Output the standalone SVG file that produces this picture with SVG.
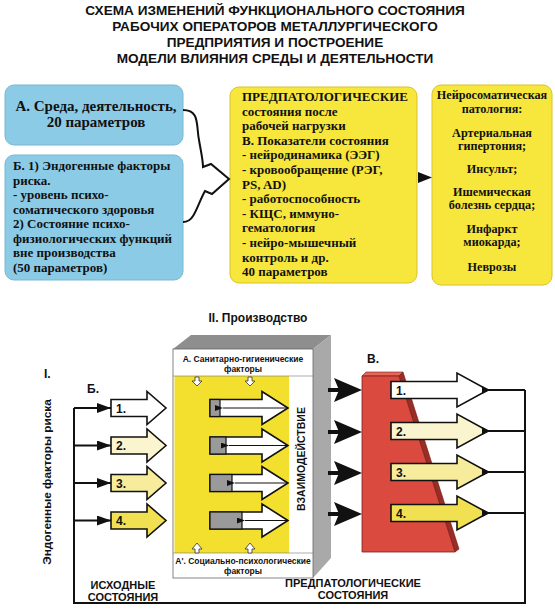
<svg xmlns="http://www.w3.org/2000/svg" width="555" height="615" viewBox="0 0 555 615">
<defs>
<style>
.title{font-family:"Liberation Sans",Arial,sans-serif;font-weight:bold;font-size:13.6px;fill:#111;text-anchor:middle}
.serif{font-family:"Liberation Serif","Times New Roman",serif;font-weight:bold;font-size:13px;fill:#111}
.sans{font-family:"Liberation Sans",Arial,sans-serif;font-weight:bold;fill:#111}
.blue{fill:#8ccbe6;stroke:#79b7d3;stroke-width:1}
.yel{fill:#f7e73c;stroke:#d9c22a;stroke-width:1}
.ol{stroke:#111;stroke-width:1.6;stroke-linejoin:miter}
.ln{fill:none;stroke:#111;stroke-width:2}
.f1{fill:#ffffff}.f2{fill:#faf4cf}.f3{fill:#f6ec9c}.f4{fill:#f0e052}
.small{fill:#fff;stroke:#333;stroke-width:0.8}
</style>
<marker id="ah" viewBox="0 0 14 10" refX="14" refY="5" markerWidth="14" markerHeight="10" markerUnits="userSpaceOnUse" orient="auto">
<path d="M0,0 L14,5 L0,10 Z" fill="#111"/>
</marker>
<marker id="ahs" viewBox="0 0 8 6" refX="0" refY="3" markerWidth="8" markerHeight="6" markerUnits="userSpaceOnUse" orient="auto">
<path d="M8,0 L0,3 L8,6 Z" fill="#111"/>
</marker>
</defs>
<rect width="555" height="615" fill="#fff"/>

<g id="title">
<text class="title" x="275" y="15">СХЕМА ИЗМЕНЕНИЙ ФУНКЦИОНАЛЬНОГО СОСТОЯНИЯ</text>
<text class="title" x="275" y="31">РАБОЧИХ ОПЕРАТОРОВ МЕТАЛЛУРГИЧЕСКОГО</text>
<text class="title" x="275" y="47">ПРЕДПРИЯТИЯ И ПОСТРОЕНИЕ</text>
<text class="title" x="275" y="63">МОДЕЛИ ВЛИЯНИЯ СРЕДЫ И ДЕЯТЕЛЬНОСТИ</text>
</g>

<g id="nodeA">
<rect class="blue" x="5" y="85" width="178" height="60" rx="9"/>
<text class="serif" x="96" y="111" text-anchor="middle" style="font-size:15px">А. Среда, деятельность,</text>
<text class="serif" x="96" y="127" text-anchor="middle" style="font-size:15px">20 параметров</text>
</g>

<g id="nodeB">
<rect class="blue" x="5" y="155" width="178" height="125" rx="9"/>
<text class="serif" x="13" y="170">Б. 1) Эндогенные факторы</text>
<text class="serif" x="13" y="184.5">риска.</text>
<text class="serif" x="13" y="199">- уровень психо-</text>
<text class="serif" x="13" y="213.5">соматического здоровья</text>
<text class="serif" x="13" y="228">2) Состояние психо-</text>
<text class="serif" x="13" y="242.5">физиологических функций</text>
<text class="serif" x="13" y="257">вне производства</text>
<text class="serif" x="13" y="271.5">(50 параметров)</text>
</g>

<g id="nodeV">
<rect class="yel" x="230" y="87" width="187" height="196" rx="9"/>
<text class="serif" x="242" y="101">ПРЕДПАТОЛОГИЧЕСКИЕ</text>
<text class="serif" x="242" y="115.6">состояния после</text>
<text class="serif" x="242" y="130.2">рабочей нагрузки</text>
<text class="serif" x="242" y="144.8">В. Показатели состояния</text>
<text class="serif" x="242" y="159.4">- нейродинамика (ЭЭГ)</text>
<text class="serif" x="242" y="174">- кровообращение (РЭГ,</text>
<text class="serif" x="242" y="188.6">PS, AD)</text>
<text class="serif" x="242" y="203.2">- работоспособность</text>
<text class="serif" x="242" y="217.8">- КЩС, иммуно-</text>
<text class="serif" x="242" y="232.4">гематология</text>
<text class="serif" x="242" y="247">- нейро-мышечный</text>
<text class="serif" x="242" y="261.6">контроль и др.</text>
<text class="serif" x="242" y="276.2">40 параметров</text>
</g>

<g id="nodePath">
<rect class="yel" x="432" y="85" width="120" height="200" rx="9"/>
<g class="serif" text-anchor="middle" style="font-size:12.2px">
<text x="492" y="99">Нейросоматическая</text>
<text x="492" y="112.5">патология:</text>
<text x="492" y="136.5">Артериальная</text>
<text x="492" y="150">гипертония;</text>
<text x="492" y="173">Инсульт;</text>
<text x="492" y="195.5">Ишемическая</text>
<text x="492" y="209">болезнь сердца;</text>
<text x="492" y="232.5">Инфаркт</text>
<text x="492" y="246">миокарда;</text>
<text x="492" y="271">Неврозы</text>
</g>
</g>

<g id="topConnectors">
<path class="ln" d="M183,110 C200,110 196,125 199,140 C201,152 203,160 203,167 L211,164 L229,179 L212,194 L205,191 C200,200 197,210 193,216 C190,221 187,222 183,222"/>
<path d="M418,172 L432,177.5 L418,183 Z" fill="#111"/>
</g>

<g id="labelsBottom">
<text class="sans" x="258" y="322" text-anchor="middle" style="font-size:12px">II. Производство</text>
<text class="sans" x="44" y="378" style="font-size:12px">I.</text>
<text class="sans" x="87" y="393" style="font-size:12px">Б.</text>
<text class="sans" transform="translate(51,482) rotate(-90)" text-anchor="middle" style="font-size:11.8px">Эндогенные факторы риска</text>
<text class="sans" x="123" y="589" text-anchor="middle" style="font-size:11px">ИСХОДНЫЕ</text>
<text class="sans" x="123" y="601" text-anchor="middle" style="font-size:11px">СОСТОЯНИЯ</text>
<text class="sans" x="353" y="587" text-anchor="middle" style="font-size:11px">ПРЕДПАТОЛОГИЧЕСКИЕ</text>
<text class="sans" x="353" y="599" text-anchor="middle" style="font-size:11px">СОСТОЯНИЯ</text>
<text class="sans" x="367" y="363" style="font-size:12px">В.</text>
</g>

<g id="production">
<polygon points="173,349 191,335 331,335 313,349" fill="#8e8e8e"/>
<polygon points="313,349 331,335 331,558 313,578" fill="#a9a9a9"/>
<rect x="173" y="349" width="140" height="229" fill="#fff" stroke="#666" stroke-width="0.8"/>
<rect x="174.5" y="376" width="114.5" height="177" fill="#f2df2e"/>
<line x1="173" y1="376" x2="313" y2="376" stroke="#777" stroke-width="0.6"/>
<line x1="173" y1="553" x2="313" y2="553" stroke="#777" stroke-width="0.6"/>
<text class="sans" x="243" y="362" text-anchor="middle" style="font-size:8.5px">А. Санитарно-гигиенические</text>
<text class="sans" x="243" y="371.5" text-anchor="middle" style="font-size:8.5px">факторы</text>
<text class="sans" x="243" y="564" text-anchor="middle" style="font-size:8.5px">А'. Социально-психологические</text>
<text class="sans" x="243" y="573.5" text-anchor="middle" style="font-size:8.5px">факторы</text>
<text class="sans" transform="translate(305,459) rotate(-90)" text-anchor="middle" style="font-size:10.5px">ВЗАИМОДЕЙСТВИЕ</text>
<path class="small" d="M195,377 h4 v4 h3 l-5,5 l-5,-5 h3 Z"/>
<path class="small" d="M248,377 h4 v4 h3 l-5,5 l-5,-5 h3 Z"/>
<path class="small" d="M195,553 h4 v-4 h3 l-5,-6 l-5,6 h3 Z"/>
<path class="small" d="M248,553 h4 v-4 h3 l-5,-6 l-5,6 h3 Z"/>
</g>

<g id="innerArrows">
<path class="ol f1" d="M210,399.5 H262 V391.5 L288,408 L262,424.5 V416.5 H210 Z"/>
<rect x="210" y="399.5" width="10" height="17" fill="#9a9a9a" stroke="#111" stroke-width="1.2"/>
<line x1="288" y1="408" x2="223" y2="408" stroke="#111" stroke-width="1" marker-end="url(#ahs)"/>
<path class="ol f1" d="M210,437 H262 V429 L288,445.5 L262,462 V454 H210 Z"/>
<rect x="210" y="437" width="16" height="17" fill="#9a9a9a" stroke="#111" stroke-width="1.2"/>
<line x1="288" y1="445.5" x2="229" y2="445.5" stroke="#111" stroke-width="1" marker-end="url(#ahs)"/>
<path class="ol f1" d="M210,474.5 H262 V466.5 L288,483 L262,499.5 V491.5 H210 Z"/>
<rect x="210" y="474.5" width="22" height="17" fill="#9a9a9a" stroke="#111" stroke-width="1.2"/>
<line x1="288" y1="483" x2="235" y2="483" stroke="#111" stroke-width="1" marker-end="url(#ahs)"/>
<path class="ol f1" d="M210,512 H262 V504 L288,520.5 L262,537 V529 H210 Z"/>
<rect x="210" y="512" width="32" height="17" fill="#9a9a9a" stroke="#111" stroke-width="1.2"/>
<line x1="288" y1="520.5" x2="245" y2="520.5" stroke="#111" stroke-width="1" marker-end="url(#ahs)"/>
</g>

<g id="leftArrows">
<path class="ol f1" d="M111,399.5 H147 V391.5 L166,408 L147,424.5 V416.5 H111 Z"/>
<path class="ol f2" d="M111,437 H147 V429 L166,445.5 L147,462 V454 H111 Z"/>
<path class="ol f3" d="M111,474.5 H147 V466.5 L166,483 L147,499.5 V491.5 H111 Z"/>
<path class="ol f4" d="M111,512 H147 V504 L166,520.5 L147,537 V529 H111 Z"/>
<g class="sans" style="font-size:12px">
<text x="116" y="412.5">1.</text>
<text x="116" y="450">2.</text>
<text x="116" y="487.5">3.</text>
<text x="116" y="525">4.</text>
</g>
</g>

<g id="redBlock">
<polygon points="362,376 366,372 403,372 399,376" fill="#e4685a" stroke="#7a1f1a" stroke-width="0.6"/>
<polygon points="399,376 403,372 459,549 455,552" fill="#9b2d27" stroke="#6a1a16" stroke-width="0.6"/>
<polygon points="362,376 399,376 455,552 362,552" fill="#da4a3e" stroke="#7a1f1a" stroke-width="0.8"/>
</g>

<g id="rightArrows">
<path class="ol f1" d="M391,381.5 H457 V373 L488,390 L457,407 V398.5 H391 Z"/>
<path class="ol f2" d="M391,422.5 H457 V414 L488,431 L457,448 V439.5 H391 Z"/>
<path class="ol f3" d="M391,463.5 H457 V455 L488,472 L457,489 V480.5 H391 Z"/>
<path class="ol f4" d="M391,504.5 H457 V496 L488,513 L457,530 V521.5 H391 Z"/>
<g class="sans" style="font-size:12px">
<text x="396" y="394.5">1.</text>
<text x="396" y="435.5">2.</text>
<text x="396" y="476.5">3.</text>
<text x="396" y="517.5">4.</text>
</g>
</g>

<g id="bottomConnectors">
<polyline class="ln" points="74,408 74,603 525,603 525,390"/>
<line class="ln" x1="74" y1="408" x2="111" y2="408" marker-end="url(#ah)"/>
<line class="ln" x1="74" y1="445.5" x2="111" y2="445.5" marker-end="url(#ah)"/>
<line class="ln" x1="74" y1="483" x2="111" y2="483" marker-end="url(#ah)"/>
<line class="ln" x1="74" y1="520.5" x2="111" y2="520.5" marker-end="url(#ah)"/>
<line class="ln" x1="484" y1="390" x2="525" y2="390"/>
<line class="ln" x1="484" y1="431" x2="525" y2="431"/>
<line class="ln" x1="484" y1="472" x2="525" y2="472"/>
<line class="ln" x1="484" y1="513" x2="525" y2="513"/>
<g fill="#111">
<path d="M482,386 L490,390 L482,394 Z"/>
<path d="M482,427 L490,431 L482,435 Z"/>
<path d="M482,468 L490,472 L482,476 Z"/>
<path d="M482,509 L490,513 L482,517 Z"/>
</g>
<g fill="#111" stroke="#111">
<line x1="328" y1="390" x2="340" y2="390" stroke-width="4"/>
<path d="M334,378 L362,390 L334,402 L339,390 Z" stroke="none"/>
<line x1="328" y1="432" x2="340" y2="432" stroke-width="4"/>
<path d="M334,420 L362,432 L334,444 L339,432 Z" stroke="none"/>
<line x1="328" y1="473" x2="340" y2="473" stroke-width="4"/>
<path d="M334,461 L362,473 L334,485 L339,473 Z" stroke="none"/>
<line x1="328" y1="514" x2="340" y2="514" stroke-width="4"/>
<path d="M334,502 L362,514 L334,526 L339,514 Z" stroke="none"/>
</g>
</g>
</svg>
